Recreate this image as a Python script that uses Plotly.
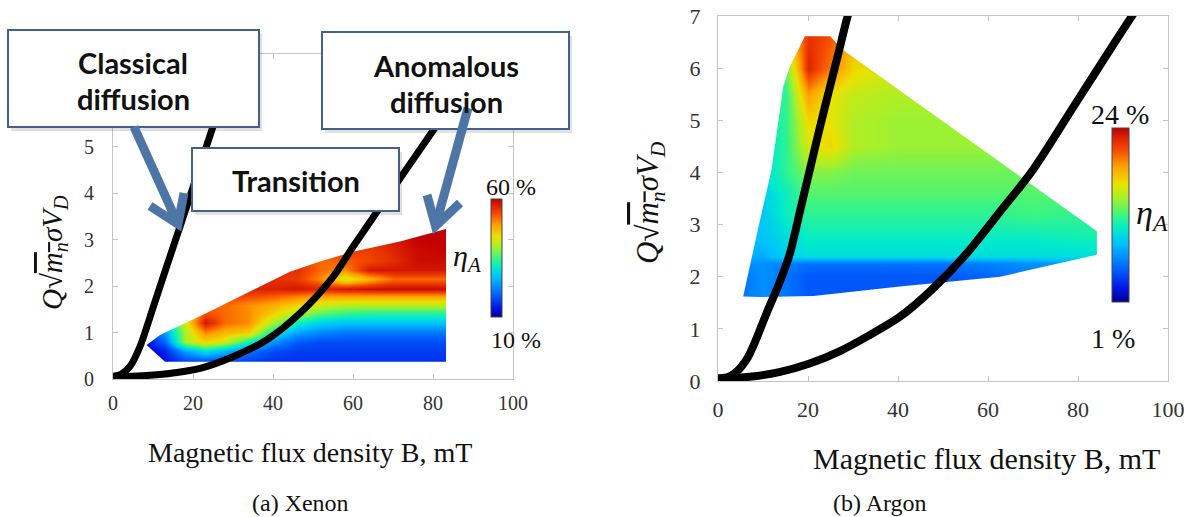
import plotly.graph_objects as go

W, H = 1184, 517
N = None

# ---------------- (a) Xenon ----------------
xe_B = [8, 13, 18, 23, 28, 34, 40, 46, 52, 58, 64, 70, 76, 83.25]
xe_Q = [0.37, 0.6, 0.8, 1.0, 1.2, 1.4, 1.6, 1.8, 1.95, 2.15, 2.35, 2.55, 2.8, 3.05, 3.23]
xe_eta = [
    [12, 14, 17, 17, 17, 17, 16, 16, 16, 16, 16, 16, 16, 16],
    [12, 15, 24, 30, 26, 21, 18, 17, 17, 17, 17, 17, 17, 17],
    [13, 20, 40, 45, 42, 32, 23, 19, 18, 18, 18, 18, 18, 18],
    [15, 24, 40, 50, 47, 45, 31, 24, 22, 21, 21, 21, 21, 21],
    [18, 28, 42, 58, 52, 50, 40, 32, 28, 27, 27, 27, 27, 27],
    [N, 30, 44, 54, 52, 50, 45, 40, 36, 34, 33, 33, 33, 33],
    [N, N, 46, 52, 52, 50, 48, 45, 42, 41, 41, 41, 41, 41],
    [N, N, N, 55, 55, 54, 53, 51, 49, 49, 49, 49, 49, 49],
    [N, N, N, N, 56, 57, 57, 58, 57, 58, 59, 59, 59, 59],
    [N, N, N, N, N, 56, 56, 55, 50, 42, 47, 52, 52, 52],
    [N, N, N, N, N, N, 56, 56, 52, 50, 58, 58, 58, 58],
    [N, N, N, N, N, N, N, 55, 52, 53, 54, 56, 59, 59],
    [N, N, N, N, N, N, N, N, N, 55, 55, 57, 59, 60],
    [N, N, N, N, N, N, N, N, N, N, N, 58, 60, 60],
    [N, N, N, N, N, N, N, N, N, N, N, N, 60, 60],
]
xe_edge_B = [13, 83.25, 83.25, 71.75, 60, 51.75, 44.25, 34.25, 23.4, 11.75, 8.4, 13]
xe_edge_Q = [0.37, 0.37, 3.23, 2.96, 2.74, 2.53, 2.31, 1.88, 1.42, 0.95, 0.73, 0.37]
xe_classical_B = [0, 2, 4.25, 6.75, 10.1, 13.4, 16.75, 20, 23.5, 27, 31]
xe_classical_Q = [0.06, 0.1, 0.27, 0.7, 1.56, 2.42, 3.28, 4.13, 5.05, 5.95, 7.0]
xe_anomalous_B = [0, 5, 9.3, 15, 21.8, 30, 38.4, 46.8, 55, 60, 66, 72, 78, 84, 90]
xe_anomalous_Q = [0.05, 0.06, 0.08, 0.13, 0.23, 0.48, 0.84, 1.42, 2.2, 2.85, 3.6, 4.35, 5.1, 5.85, 6.6]
xe_range = [10, 60]

# ---------------- (b) Argon ----------------
ar_B = [5, 10, 15, 20, 25, 30, 40, 50, 60, 70, 85]
ar_Q = [1.6, 2.0, 2.25, 2.4, 2.8, 3.2, 3.6, 4.0, 4.5, 5.0, 5.5, 6.0, 6.6]
ar_eta = [
    [6, 7, 6, 5, 5, 5, 5, N, N, N, N],
    [6, 7, 6, 5, 5, 5, 5, 5, 5.5, N, N],
    [7, 7, 6.5, 6, 6, 6, 6, 6, 6.5, 7, 8],
    [8, 8, 9.5, 10, 10, 10, 10, 10, 10, 10, 10],
    [9, 9, 10, 11, 11, 11, 11, 11, 11, 11, 11.5],
    [9, 9, 11, 12, 12, 12, 12, 12, 12, 12.5, 12],
    [9, 9.5, 11, 13, 13, 13, 13, 13, 13, 13, N],
    [N, 10, 12, 14, 14, 13.5, 13.5, 13.5, 13.5, 13.5, N],
    [N, 10, 12, 16, 17, 15, 14.5, 14.5, 14.5, N, N],
    [N, 11, 12, 17, 16.5, 15, 14.5, 14.5, N, N, N],
    [N, N, 12, 19, 16.5, 15.5, 15, N, N, N, N],
    [N, N, 13, 22.5, 20, 17, 16, N, N, N, N],
    [N, N, N, 22, 21, 18, N, N, N, N, N],
]
ar_edge_B = [5.6, 9, 11.9, 14.5, 16, 19.3, 24.9, 27.8, 84.2, 84.2, 62.7, 40.4, 21.2, 9.3, 5.6]
ar_edge_Q = [1.62, 2.96, 4.05, 5.65, 6.03, 6.61, 6.61, 6.35, 2.87, 2.42, 2.0, 1.81, 1.63, 1.61, 1.62]
ar_classical_B = [0, 2.4, 4.5, 6.6, 8, 10.8, 13.5, 16, 18.2, 20.4, 22.6, 24.9, 26.8, 28.6, 29.5]
ar_classical_Q = [0.05, 0.08, 0.21, 0.45, 0.7, 1.3, 1.85, 2.45, 3.25, 4.05, 4.85, 5.65, 6.3, 6.93, 7.2]
ar_anomalous_B = [0, 7, 13.6, 20.2, 27, 33.5, 40.4, 47.5, 55.3, 62.7, 70, 79.3, 88.6, 93.5]
ar_anomalous_Q = [0.04, 0.08, 0.17, 0.33, 0.57, 0.87, 1.23, 1.75, 2.45, 3.25, 4.05, 5.3, 6.55, 7.2]
ar_range = [1, 24]

B_ticks = [0, 20, 40, 60, 80, 100]
Q_ticks = [0, 1, 2, 3, 4, 5, 6, 7]
Q_labels_a = ['0', '1', '2', '3', '4', '5', '', '']   # 6 and 7 sit under the "Classical" box
Q_labels_b = ['0', '1', '2', '3', '4', '5', '6', '7']

JET = [[0.0, 'rgb(0,0,150)'], [0.08, 'rgb(0,20,230)'], [0.2, 'rgb(0,105,255)'],
       [0.33, 'rgb(0,190,255)'], [0.42, 'rgb(0,235,205)'], [0.5, 'rgb(60,245,130)'],
       [0.6, 'rgb(170,240,40)'], [0.68, 'rgb(235,225,0)'], [0.78, 'rgb(255,160,0)'],
       [0.88, 'rgb(245,70,0)'], [1.0, 'rgb(195,0,0)']]


def px(x):
    return x / W


def py(y):
    return 1 - y / H


def mask(edge_B, edge_Q):
    # white cover for the plot area outside the measured region (region = hole)
    area = sum(edge_B[i] * edge_Q[i + 1] - edge_B[i + 1] * edge_Q[i] for i in range(len(edge_B) - 1))
    bx, by = list(edge_B), list(edge_Q)
    if area > 0:  # inner boundary clockwise, outer counter-clockwise
        bx, by = bx[::-1], by[::-1]
    ox = [-10, 110, 110, -10, -10]
    oy = [-1, -1, 9, 9, -1]
    return ox + bx + [-10], oy + by + [-1]


def cbar(x0, x1, y0, y1):
    return dict(x=px(x0), xanchor='left', xpad=0, y=py((y0 + y1) / 2), yanchor='middle', ypad=0,
                len=(y1 - y0) / H, lenmode='fraction', thickness=x1 - x0, thicknessmode='pixels',
                outlinewidth=1, outlinecolor='#444', showticklabels=False, ticks='')


fig = go.Figure()

for (Bg, Qg, Z, rng, eB, eQ, cB, cQ, aB, aQ, xa, ya, cb, lw) in [
    (xe_B, xe_Q, xe_eta, xe_range, xe_edge_B, xe_edge_Q, xe_classical_B, xe_classical_Q,
     xe_anomalous_B, xe_anomalous_Q, 'x', 'y', cbar(491, 502, 199, 317), 7),
    (ar_B, ar_Q, ar_eta, ar_range, ar_edge_B, ar_edge_Q, ar_classical_B, ar_classical_Q,
     ar_anomalous_B, ar_anomalous_Q, 'x2', 'y2', cbar(1112, 1129, 128, 302), 8),
]:
    fig.add_trace(go.Heatmap(x=Bg, y=Qg, z=Z, zsmooth='best', connectgaps=True, colorscale=JET,
                             zmin=rng[0], zmax=rng[1], colorbar=cb, hoverinfo='skip',
                             xaxis=xa, yaxis=ya))
    mx, my = mask(eB, eQ)
    fig.add_trace(go.Scatter(x=mx, y=my, mode='lines', fill='toself', fillcolor='white',
                             line=dict(width=0, color='white'), hoverinfo='skip', showlegend=False,
                             xaxis=xa, yaxis=ya))
    for cx, cy in [(cB, cQ), (aB, aQ)]:
        fig.add_trace(go.Scatter(x=cx, y=cy, mode='lines',
                                 line=dict(color='black', width=lw, shape='spline', smoothing=0.8),
                                 hoverinfo='skip', showlegend=False, xaxis=xa, yaxis=ya))


def axis(dom, rng, ticks, size, standoff, labels=None):
    d = dict(domain=dom, range=rng, tickvals=ticks, ticks='inside', ticklen=5, tickcolor='#c4c4c4',
             showline=True, linecolor='#c4c4c4', linewidth=1, mirror='ticks', showgrid=False,
             zeroline=False, tickfont=dict(family='Liberation Serif', size=size, color='#333'),
             ticklabelstandoff=standoff, ticklabeloverflow='allow', fixedrange=True)
    if labels is not None:
        d['ticktext'] = labels
    return d


SERIF = 'Liberation Serif'
BOLD = 'Lato'
ylab = ("<i>Q</i>√<span style='text-decoration:overline'><i>m</i><sub><i>n</i></sub></span>"
        "<i>σV</i><sub><i>D</i></sub>")
eta = "<i>η</i><sub><i>A</i></sub>"


def txt(x, y, s, size, family=SERIF, angle=0, color='#111'):
    return dict(x=px(x), y=py(y), xref='paper', yref='paper', text=s, showarrow=False,
                font=dict(size=size, family=family, color=color), textangle=angle,
                xanchor='center', yanchor='middle')


annotations = [
    txt(310, 452, 'Magnetic flux density B, mT', 28),
    txt(986, 458, 'Magnetic flux density B, mT', 30),
    txt(300, 503, '(a) Xenon', 24),
    txt(880, 503, '(b) Argon', 24),
    txt(54, 253, ylab, 29, angle=-90),
    txt(650, 203, ylab, 31, angle=-90),
    txt(511, 187, '60 %', 24),
    txt(516, 340, '10 %', 24),
    txt(467, 258, eta, 30),
    txt(1120, 115, '24 %', 28),
    txt(1113, 338, '1 %', 28),
    txt(1152, 215, eta, 34),
    txt(133, 62, '<b>Classical</b>', 29, BOLD),
    txt(133, 98, '<b>diffusion</b>', 29, BOLD),
    txt(446, 65, '<b>Anomalous</b>', 29, BOLD),
    txt(446, 101, '<b>diffusion</b>', 29, BOLD),
    txt(296, 181, '<b>Transition</b>', 29, BOLD),
]

BOXLINE = 'rgb(66,98,140)'
ARROW = 'rgb(77,118,166)'


def rect(x0, y0, x1, y1, fill, line=None):
    d = dict(type='rect', xref='paper', yref='paper', x0=px(x0), x1=px(x1), y0=py(y1), y1=py(y0),
             fillcolor=fill, layer='above')
    d['line'] = dict(width=2, color=line) if line else dict(width=0)
    return d


def path(pts, width=9, color=ARROW):
    p = 'M ' + ' L '.join(f'{px(x):.5f},{py(y):.5f}' for x, y in pts)
    return dict(type='path', xref='paper', yref='paper', path=p, line=dict(color=color, width=width),
                layer='above')


shapes = []
for (x0, y0, x1, y1) in [(8, 30, 259, 127), (322, 32, 569, 129), (192, 148, 399, 211)]:
    shapes.append(rect(x0 + 3, y0 + 4, x1 + 3, y1 + 4, 'rgba(0,0,0,0.12)'))
    shapes.append(rect(x0, y0, x1, y1, 'white', BOXLINE))
shapes += [
    path([(134, 127), (178, 224)]),
    path([(150, 206), (178, 224), (184, 193)]),
    path([(468, 108), (435.5, 226)]),
    path([(427, 195), (435.5, 226), (460, 203)]),
]

fig.update_layout(
    width=W, height=H, margin=dict(l=0, r=0, t=0, b=0, autoexpand=False),
    paper_bgcolor='white', plot_bgcolor='white', showlegend=False,
    xaxis=axis([px(113), px(513)], [0, 100], B_ticks, 20, 6),
    yaxis=axis([py(379), py(54)], [0, 7], Q_ticks, 20, 14, Q_labels_a),
    xaxis2=axis([px(718), px(1168)], [0, 100], B_ticks, 22, 9),
    yaxis2=axis([py(381), py(16)], [0, 7], Q_ticks, 22, 12, Q_labels_b),
    annotations=annotations, shapes=shapes,
)
fig.layout.xaxis2.anchor = 'y2'
fig.layout.yaxis2.anchor = 'x2'

fig.write_html('out.html')
